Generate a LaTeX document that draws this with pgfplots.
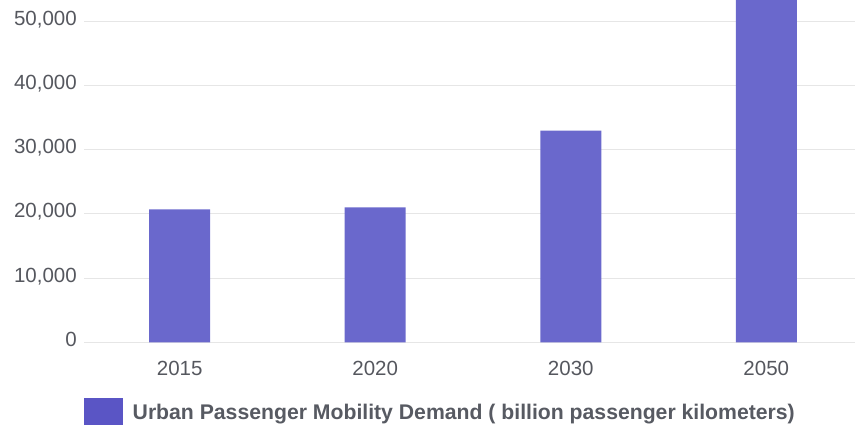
\documentclass[border=0pt]{standalone}
\usepackage{fontspec}
\setmainfont{Liberation Sans}
\usepackage{pgfplots}
\pgfplotsset{compat=1.18}
\definecolor{barc}{HTML}{6A68CC}
\definecolor{legc}{HTML}{5A55C5}
\definecolor{tickc}{HTML}{55575E}
\definecolor{legtxt}{HTML}{575A62}
\definecolor{gridc}{HTML}{E6E6E6}
\begin{document}
\begin{tikzpicture}
\useasboundingbox (0,0) rectangle (855bp,425bp);
\clip (0,0) rectangle (855bp,425bp);
\begin{axis}[
  at={(84bp,82.7bp)}, anchor=south west,
  scale only axis, width=771bp, height=342.3bp,
  xmin=-0.4895, xmax=3.4537, ymin=0, ymax=53270,
  axis line style={draw=none},
  major tick length=0pt,
  ybar, bar width=61bp,
  xtick={0,1,2,3}, xticklabels={2015,2020,2030,2050},
  ytick={0,10000,20000,30000,40000,50000},
  scaled y ticks=false,
  /pgf/number format/assume math mode=true,
  /pgf/number format/.cd, fixed, 1000 sep={,}, /pgfplots/.cd,
  ymajorgrids, grid style={gridc, line width=1bp},
  yticklabel style={anchor=base east, inner sep=0pt, xshift=-7bp, yshift=-4bp,
    text=tickc, font=\fontsize{20.5bp}{24bp}\selectfont},
  xticklabel style={anchor=base, inner sep=0pt, yshift=-33bp,
    text=tickc, font=\fontsize{20.5bp}{24bp}\selectfont},
  legend style={at={(0,-0.2040)}, anchor=west, draw=none, fill=none,
    inner sep=0pt, outer sep=0pt,
    nodes={inner sep=0pt, text=legtxt, font=\fontsize{21.2bp}{25bp}\selectfont\bfseries},
    /tikz/every odd column/.style={column sep=10bp}},
  legend image code/.code={\fill[legc] (0bp,-13.8bp) rectangle (38.7bp,13.8bp);},
]
\addplot[fill=barc, draw=none] coordinates {(0,20700) (1,21000) (2,32950) (3,55000)};
\addlegendentry{Urban Passenger Mobility Demand ( billion passenger kilometers)}
\end{axis}
\end{tikzpicture}
\end{document}
